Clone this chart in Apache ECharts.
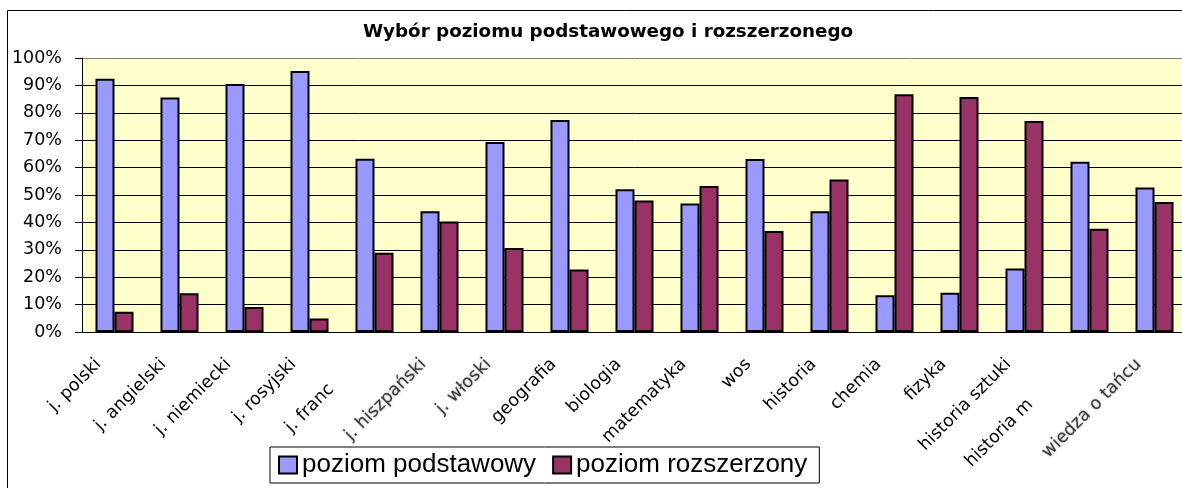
<!DOCTYPE html>
<html>
<head>
<meta charset="utf-8">
<script src="https://cdn.jsdelivr.net/npm/echarts@6/dist/echarts.min.js"></script>
<style>
html, body { margin: 0; padding: 0; overflow: hidden; background: #fff; }
#chart { width: 1240px; height: 520px; }
</style>
</head>
<body>
<div id="chart"></div>
<script>
var categories = ['j. polski', 'j. angielski', 'j. niemiecki', 'j. rosyjski', 'j. francuski',
    'j. hiszpański', 'j. włoski', 'geografia', 'biologia', 'matematyka', 'wos', 'historia',
    'chemia', 'fizyka', 'historia sztuki', 'historia muzyki', 'wiedza o tańcu'];
// labels as they show on the axis (two are cut off in the original)
var tickLabels = ['j. polski', 'j. angielski', 'j. niemiecki', 'j. rosyjski', 'j. franc',
    'j. hiszpański', 'j. włoski', 'geografia', 'biologia', 'matematyka', 'wos', 'historia',
    'chemia', 'fizyka', 'historia sztuki', 'historia m', 'wiedza o tańcu'];
var podstawowy = [92.4, 85.6, 90.5, 95.3, 63.2, 44.1, 69.3, 77.4, 52.1, 46.9, 63.1, 44.1, 13.4, 14.3, 23.2, 62.1, 52.7];
var rozszerzony = [7.4, 14.1, 9.1, 4.9, 28.9, 40.3, 30.7, 22.8, 48.0, 53.3, 36.9, 55.7, 86.8, 85.8, 77.0, 37.7, 47.4];
var seriesNames = ['poziom podstawowy', 'poziom rozszerzony'];

var myChart = echarts.init(document.getElementById('chart'));

function richStyle(extra) {
    var s = { fontFamily: 'DejaVu Sans', fontSize: 17.5, color: '#000', padding: [0, 11, 23, 0] };
    for (var k in extra) s[k] = extra[k];
    return s;
}

var option = {
    backgroundColor: '#fff',
    animation: false,
    title: {
        text: 'Wybór poziomu podstawowego i rozszerzonego',
        left: 603,
        top: 18,
        textAlign: 'center',
        textStyle: {
            fontFamily: 'DejaVu Sans',
            fontWeight: 'bold',
            fontSize: 18.3,
            color: '#000'
        }
    },
    graphic: [{
        type: 'rect',
        shape: { x: 7.5, y: 10.5, width: 1400, height: 700 },
        style: { fill: 'none', stroke: '#000', lineWidth: 1 },
        silent: true,
        z: -1
    }],
    legend: {
        data: seriesNames,
        left: 270,
        top: 447,
        orient: 'horizontal',
        padding: [3, 12, 3, 8],
        itemGap: 16,
        itemWidth: 18,
        itemHeight: 17,
        icon: 'rect',
        borderColor: '#000',
        borderWidth: 1,
        itemStyle: { borderColor: '#000', borderWidth: 2 },
        textStyle: {
            fontFamily: 'Liberation Sans',
            fontSize: 26,
            lineHeight: 30,
            color: '#000'
        }
    },
    grid: {
        left: 82,
        top: 58,
        width: 1105,
        height: 274,
        show: true,
        backgroundColor: '#FFFFCC',
        borderWidth: 0
    },
    xAxis: {
        type: 'category',
        data: categories,
        axisLine: { lineStyle: { color: '#000', width: 1 } },
        axisTick: { length: 5, lineStyle: { color: '#444' } },
        axisLabel: {
            interval: 0,
            rotate: 45,
            margin: 30,
            formatter: function (value, index) {
                var key = 'n';
                if (index === 5 || index === 6 || index === 16) key = 'g';
                if (index === 4) key = 'a';
                if (index === 15) key = 'b';
                return '{' + key + '|' + tickLabels[index] + '}';
            },
            rich: {
                n: richStyle({}),
                g: richStyle({ color: '#3c3c3c', textShadowBlur: 2, textShadowColor: 'rgba(0,0,0,0.45)' }),
                a: richStyle({ padding: [0, 48, 26, 0] }),
                b: richStyle({ padding: [0, 70, 27, 0] })
            }
        }
    },
    yAxis: {
        type: 'value',
        min: 0,
        max: 100,
        interval: 10,
        axisLine: { show: true, lineStyle: { color: '#000', width: 1 } },
        axisTick: { show: true, length: 7, lineStyle: { color: '#000' } },
        axisLabel: {
            formatter: '{value}%',
            margin: 20,
            fontFamily: 'DejaVu Sans',
            fontSize: 17.5,
            color: '#000'
        },
        splitLine: {
            lineStyle: {
                color: ['#000', '#000', '#000', '#000', '#000', '#000', '#000', '#000', '#000', '#000', '#808080'],
                width: 1
            }
        }
    },
    series: [{
        name: seriesNames[0],
        type: 'bar',
        data: podstawowy,
        barGap: '0%',
        barCategoryGap: '41.5%',
        itemStyle: { color: '#9999FF', borderColor: '#000', borderWidth: 2 }
    }, {
        name: seriesNames[1],
        type: 'bar',
        data: rozszerzony,
        barGap: '0%',
        barCategoryGap: '41.5%',
        itemStyle: { color: '#993366', borderColor: '#000', borderWidth: 2 }
    }]
};
myChart.setOption(option);
</script>
</body>
</html>
